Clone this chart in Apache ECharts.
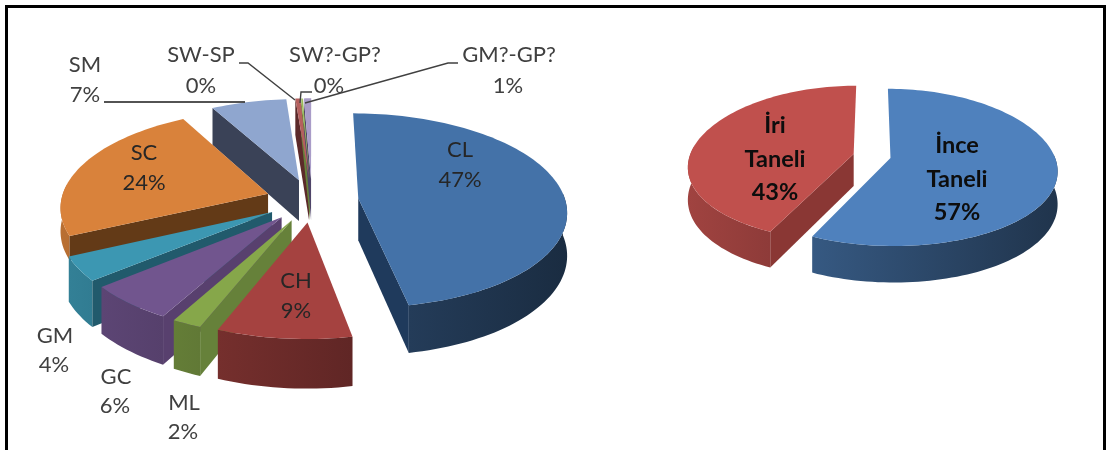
<!DOCTYPE html>
<html><head><meta charset="utf-8">
<style>html,body{margin:0;padding:0;background:#fff}#c{width:1106px;height:450px}</style>
<script src="https://cdn.jsdelivr.net/npm/echarts@6/dist/echarts.min.js"></script>
</head><body><div id="c"></div>
<script>
// Left pie
const soilNames = ['CL','CH','ML','GC','GM','SC','SM','SW-SP','SW?-GP?','GM?-GP?'];
const soilValues = [47,9,2,6,4,24,6.75,0.45,0.15,0.65];
// Right pie
const grainNames = ['İnce Taneli','İri Taneli'];
const grainValues = [57,43];

// Styles
const soilTop = ['#4472a8','#a54240','#86a74a','#71558e','#3c97b2','#d9823b','#8fa6cf','#b5605e','#9bbb59','#a99cc8'];
const soilWall = ['#1f3a5c','#6e2f2c','#66813a','#58406e','#215a6c','#633a17','#3a4257','#5c2a2a','#66813a','#4e4468'];
const soilDepthFactor = [1,1,1,1,1,0.55,1,1,1,1];
const grainTop = ['#4f81bd','#c0504d'];
const grainWall = ['#1f3a5c','#8a3734'];
const grainDepthFactor = [1,1];
const soilPie = {ox:312,oy:200.3,rx:207,ry:96,k:0.125,xf:1,e:0.225,d:42};
const grainPie = {ox:872,oy:156,rx:164,ry:77,k:0.12,xf:1.3,e:0.115,d:32};
// label anchors: [x1,y1,x2,y2]
const soilLabelPos = [[460,150,460,180],[296,281,296,311],[184,403,183,432],[116,377,115,406],[55,336,54,365],
  [144,153,144,183],[85,65,85,95],[201,55,201,86],[335,55,329,86],[509,55,508,86]];
const grainLabelPos = [[957,179],[775,159]];
const leaders = [
  [[104,102],[245,102]],
  [[239,63],[248,63],[295,100]],
  [[312,92],[301,92],[300,103]],
  [[305,103],[448,63],[458,63]]
];

function shade(hex,f){
  const n=parseInt(hex.slice(1),16);
  const c=[n>>16,(n>>8)&255,n&255].map(x=>Math.round(x*f));
  return 'rgb('+c.join(',')+')';
}
function buildSlices(values,pie,tops,walls,depths){
  const total=values.reduce((a,b)=>a+b,0);
  let acc=0;
  return values.map((v,i)=>{
    const a0=acc/total*2*Math.PI; acc+=v; const a1=acc/total*2*Math.PI;
    return {i,a0,a1,top:tops[i],wall:walls[i],df:depths[i],pie,mid:-Math.cos((a0+a1)/2)};
  });
}
function proj(s,u,v,low){
  const p=s.pie, w=1/(1-v*p.k), wx=1+(w-1)*p.xf;
  return [p.ox+p.rx*u*wx, p.oy+p.ry*v*w+(low?p.d*s.df*w:0)];
}
function arcPoints(a0,a1,ex,ey){
  const pts=[], steps=Math.max(4,Math.ceil((a1-a0)/0.03));
  for(let j=0;j<=steps;j++){
    const a=a0+(a1-a0)*j/steps;
    pts.push([ex+Math.sin(a),ey-Math.cos(a)]);
  }
  return pts;
}
function slicePaths(s){
  const m=(s.a0+s.a1)/2, e=s.pie.e;
  const ex=e*Math.sin(m), ey=-e*Math.cos(m);
  const rim=arcPoints(s.a0,s.a1,ex,ey);
  const P=(q,l)=>proj(s,q[0],q[1],l);
  const apex=[ex,ey], first=rim[0], last=rim[rim.length-1];
  // outer wall: only the part of the arc on the viewer's side
  const ra0=Math.max(s.a0,Math.PI/2-0.05), ra1=Math.min(s.a1,3*Math.PI/2+0.1);
  let rimPts=null;
  if(ra1>ra0){
    const r=arcPoints(ra0,ra1,ex,ey);
    rimPts=r.map(q=>P(q,false)).concat(r.slice().reverse().map(q=>P(q,true)));
  }
  return {
    topPts:[P(apex,false)].concat(rim.map(q=>P(q,false))),
    rimPts,
    wall0:[P(apex,false),P(first,false),P(first,true),P(apex,true)],
    wall1:[P(apex,false),P(last,false),P(last,true),P(apex,true)]
  };
}
function rimShade(u){return 0.62-0.22*u;}

const soilSlices=buildSlices(soilValues,soilPie,soilTop,soilWall,soilDepthFactor);
const grainSlices=buildSlices(grainValues,grainPie,grainTop,grainWall,grainDepthFactor);
const allSlices=soilSlices.concat(grainSlices);

function sliceGroup(s){
  const g=slicePaths(s);
  const base=Math.round((s.mid+1)*100)*4+10;
  const poly=(pts,style,z)=>({type:'polygon',shape:{points:pts},style,z2:z,silent:true});
  const out=[];
  if(g.rimPts){
    const xs=g.rimPts.map(q=>q[0]);
    const cx=s.pie.ox, rx=s.pie.rx*1.15;
    const uL=(Math.min(...xs)-cx)/rx, uR=(Math.max(...xs)-cx)/rx;
    const rimFill={type:'linear',x:0,y:0,x2:1,y2:0,colorStops:[
      {offset:0,color:shade(s.top,rimShade(uL))},{offset:1,color:shade(s.top,rimShade(uR))}]};
    out.push(poly(g.rimPts,{fill:rimFill},base));
  }
  // a flat cut face shows only when it turns toward the viewer
  if(Math.sin(s.a1)>0.001) out.push(poly(g.wall1,{fill:s.wall},base+1));
  if(-Math.sin(s.a0)>0.001) out.push(poly(g.wall0,{fill:s.wall},base+1));
  out.push(poly(g.topPts,{fill:s.top},base+2));
  return out;
}
const labelFont='Lato, Carlito, "Open Sans", sans-serif';
function soilText(i){
  const q=soilLabelPos[i], pct=Math.round(soilValues[i])+'%';
  const mk=(t,x,y)=>({type:'text',x,y,z2:3000,silent:true,style:{text:t,fill:i<2||i==5?'#262626':'#404040',
    font:'22px '+labelFont,textAlign:'center',textVerticalAlign:'middle'}});
  return [mk(soilNames[i],q[0],q[1]),mk(pct,q[2],q[3])];
}
function grainText(i){
  const q=grainLabelPos[i];
  return [{type:'text',x:q[0],y:q[1],z2:3000,silent:true,style:{
    text:grainNames[i].replace(' ','\n')+'\n'+Math.round(grainValues[i])+'%',fill:'#0d0d0d',
    font:'bold 23.5px '+labelFont,lineHeight:33.5,textAlign:'center',textVerticalAlign:'middle'}}];
}

const chart=echarts.init(document.getElementById('c'),null,{renderer:'canvas'});
chart.setOption({
  animation:false,
  backgroundColor:'#fff',
  graphic:{elements:[
    {type:'rect',shape:{x:5,y:5,width:1101,height:3},style:{fill:'#000'}},
    {type:'rect',shape:{x:5,y:5,width:3,height:445},style:{fill:'#000'}},
    {type:'rect',shape:{x:1103,y:5,width:3,height:445},style:{fill:'#000'}}
  ].concat(leaders.map((l,i)=>({type:'polyline',z:20,shape:{points:l},style:{stroke:i==0?'#1a1a1a':'#404040',lineWidth:1.4,fill:null}})))},
  series:[{
    type:'custom',
    coordinateSystem:'none',
    silent:true,
    data:allSlices.map((s,i)=>[i]),
    renderItem:function(params,api){
      const idx=api.value(0), s=allSlices[idx], isSoil=idx<soilSlices.length;
      const kids=sliceGroup(s).concat(isSoil?soilText(s.i):grainText(s.i));
      return {type:'group',children:kids};
    }
  }]
});
</script></body></html>
